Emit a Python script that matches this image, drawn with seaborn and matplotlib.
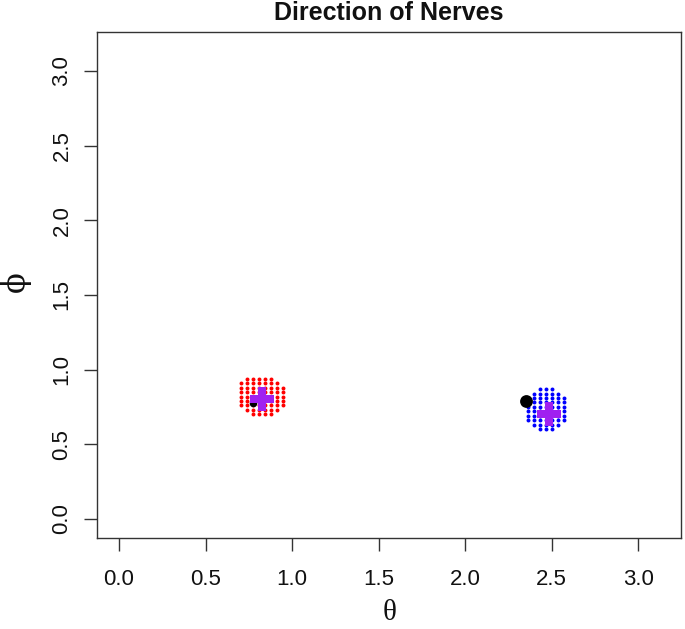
import numpy as np
import pandas as pd
import matplotlib
matplotlib.use('Agg')
import matplotlib.pyplot as plt
import seaborn as sns

red_theta = [0.705, 0.740, 0.775, 0.810, 0.845, 0.880, 0.915, 0.950]
red_phi = [0.94, 0.91, 0.88, 0.85, 0.82, 0.79, 0.76, 0.73, 0.70]
red_mask = [
    ".#####..",
    "#######.",
    "########",
    "########",
    "########",
    "########",
    "########",
    ".######.",
    "..####..",
]

blue_theta = [2.360, 2.395, 2.430, 2.465, 2.500, 2.535, 2.570]
blue_phi = [0.87, 0.84, 0.81, 0.78, 0.75, 0.72, 0.69, 0.66, 0.63, 0.60]
blue_mask = [
    "..###..",
    ".#####.",
    "#######",
    "#######",
    "#######",
    "#######",
    "#######",
    "#######",
    ".#####.",
    "..###..",
]

# true directions (black) and estimated directions (purple)
true_theta = [0.775, 2.350]
true_phi = [0.776, 0.789]
true_size = [30, 85]
est_theta = [0.823, 2.481]
est_phi = [0.804, 0.706]

tick_values = [0.0, 0.5, 1.0, 1.5, 2.0, 2.5, 3.0]
tick_labels = ['0.0', '0.5', '1.0', '1.5', '2.0', '2.5', '3.0']


def grid_points(theta, phi, mask):
    rows = []
    for p, line in zip(phi, mask):
        for t, c in zip(theta, line):
            if c == '#':
                rows.append((t, p))
    return pd.DataFrame(rows, columns=['theta', 'phi'])


red_df = grid_points(red_theta, red_phi, red_mask)
blue_df = grid_points(blue_theta, blue_phi, blue_mask)
true_df = pd.DataFrame({'theta': true_theta, 'phi': true_phi, 'size': true_size})
est_df = pd.DataFrame({'theta': est_theta, 'phi': est_phi})

sns.set_theme(style='white')
plt.rcParams['font.family'] = ['Liberation Sans', 'DejaVu Sans']

fig = plt.figure(figsize=(6.85, 6.29), dpi=100)
ax = fig.add_axes([0.1412, 0.1452, 0.8526, 0.8045])

sns.scatterplot(data=red_df, x='theta', y='phi', color='#FF0000', s=8,
                linewidth=0, ax=ax, zorder=2)
sns.scatterplot(data=blue_df, x='theta', y='phi', color='#0000FF', s=8,
                linewidth=0, ax=ax, zorder=2)
for _, r in true_df.iterrows():
    ax.scatter(r['theta'], r['phi'], s=r['size'], color='black', linewidth=0, zorder=3)
sns.scatterplot(data=est_df, x='theta', y='phi', color='#A020F0', marker='P',
                s=290, linewidth=0, ax=ax, zorder=4)

ax.set_xlim(-0.129, 3.245)
ax.set_ylim(-0.125, 3.263)
ax.set_xticks(tick_values)
ax.set_xticklabels(tick_labels)
ax.set_yticks(tick_values)
ax.set_yticklabels(tick_labels, rotation=90, va='center')
ax.tick_params(axis='both', direction='out', length=9.4, width=1.0,
               color='#333333', labelsize=16, labelcolor='#111111')
ax.tick_params(axis='x', bottom=True, pad=13)
ax.tick_params(axis='y', left=True, pad=8)
ax.set_xlabel('')
ax.set_ylabel('')
for sp in ax.spines.values():
    sp.set_visible(True)
    sp.set_color('#333333')
    sp.set_linewidth(1.0)

fig.text(388.7 / 685, 1 - 19.5 / 629, 'Direction of Nerves', ha='center',
         va='baseline', fontsize=18, fontweight='bold', color='#111111')
fig.text(390 / 685, 1 - 620 / 629, 'θ', ha='center', va='baseline', fontsize=21,
         family=['Liberation Serif', 'DejaVu Serif'], color='#111111')
fig.text(15 / 685, 1 - 282 / 629, 'ϕ', ha='center', va='center', fontsize=22,
         rotation=90, family=['DejaVu Serif', 'Liberation Serif'], color='#111111')

fig.savefig('out.png', dpi=100)
